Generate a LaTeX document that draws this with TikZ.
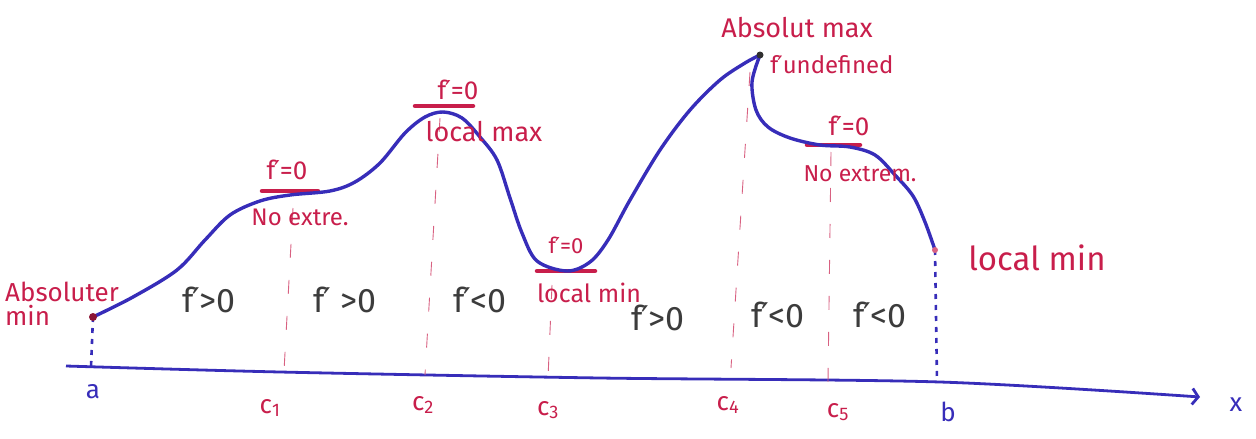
\documentclass[tikz,border=0pt]{standalone}
\usepackage{fontspec}
\setmainfont{Fira Sans}
\newfontfamily\primefont{DejaVu Sans}
\newcommand\fp{f{\primefont\kern-0.05em′}}
\usetikzlibrary{arrows.meta}
\definecolor{pen}{RGB}{55,45,185}
\definecolor{ink}{RGB}{200,30,75}
\definecolor{pencil}{RGB}{60,60,60}
\begin{document}
\begin{tikzpicture}[x=1pt,y=-1pt,
 curve/.style={pen, line width=3.4pt, line cap=round, line join=round},
 axisline/.style={pen, line width=2.8pt},
 guide/.style={ink!70, line width=0.9pt, dash pattern=on 14pt off 22pt},
 enddots/.style={pen, line width=2.6pt, dash pattern=on 5pt off 6pt},
 hbar/.style={ink, line width=4.5pt, line cap=round},
 dotmark/.style={circle, fill=#1, inner sep=0pt, minimum size=8pt},
 redlbl/.style={ink, inner sep=0pt},
 signlbl/.style={pencil, inner sep=0pt, font=\fontsize{34}{36}\selectfont},
 bluelbl/.style={pen, inner sep=0pt, font=\fontsize{26}{28}\selectfont},
 redsub/.style={ink, inner sep=0pt, font=\fontsize{26}{28}\selectfont},
]
\useasboundingbox (0,0) rectangle (1256,439);

% axis
\coordinate (O) at (66,366);
\coordinate (X) at (1200,397);
\draw[axisline, -{Straight Barb[length=6pt,width=16pt]}] plot[smooth, tension=0.5] coordinates {(66,366) (280,372) (600,378) (940,382) (1200,397)};

% key points
\coordinate (A) at (93,317);
\coordinate (S1) at (290,194);
\coordinate (S2) at (443,112);
\coordinate (S3) at (567,271);
\coordinate (M) at (760,55);
\coordinate (S5) at (840,147);
\coordinate (B) at (935,250);

% axis feet
\coordinate (Aa) at (91,367);
\coordinate (C1t) at (293,208);
\coordinate (C1a) at (284,371);
\coordinate (C2t) at (440,118);
\coordinate (C2a) at (425,375);
\coordinate (C3t) at (552,285);
\coordinate (C3a) at (548,378);
\coordinate (C4t) at (750,72);
\coordinate (C4a) at (731,368);
\coordinate (C5t) at (831,152);
\coordinate (C5a) at (828,382);
\coordinate (Ba) at (937,381);

% guides
\draw[enddots] (A) -- (Aa);
\draw[guide] (C1t) -- (C1a);
\draw[guide] (C2t) -- (C2a);
\draw[guide] (C3t) -- (C3a);
\draw[guide] (C4t) -- (C4a);
\draw[guide] (C5t) -- (C5a);
\draw[enddots] (B) -- (Ba);

% stationary bars
\draw[hbar] (262,191) -- (318,191);
\draw[hbar] (415,106) -- (473,106);
\draw[hbar] (537,271) -- (595,271);
\draw[hbar] (807,145) -- (860,145);

% curve
\draw[curve] plot[smooth, tension=0.55] coordinates {
 (93,317) (133,297) (177,270) (205,240) (230,215) (260,201) (290,195) (330,191)
 (355,182) (380,163) (405,133) (425,117) (443,112) (462,118) (480,137) (497,160)
 (510,198) (522,233) (537,261) (567,271) (590,262) (608,240) (630,200) (660,150)
 (690,110) (720,80) (745,63) (760,55)};
\draw[curve] plot[smooth, tension=0.55] coordinates {
 (760,55) (752,82) (756,110) (768,127) (790,138) (820,145) (850,147) (875,155)
 (895,175) (913,196) (925,222) (935,250)};

\node[dotmark=ink!70!black] (dA) at (A) {};
\node[dotmark=pencil!80!black, minimum size=7pt] (dM) at (M) {};
\node[dotmark=ink!70, minimum size=6pt] (dB) at (B) {};

% red labels
\node[redlbl, font=\fontsize{26}{28}\selectfont, align=left] (absmin) at (62,304) {Absoluter\\[-4pt]min};
\node[redlbl, font=\fontsize{26}{28}\selectfont] (z1) at (287,170) {\fp=0};
\node[redlbl, font=\fontsize{24}{26}\selectfont] (n1) at (300,217) {No extre.};
\node[redlbl, font=\fontsize{26}{28}\selectfont] (z2) at (458,90) {\fp=0};
\node[redlbl, font=\fontsize{27}{29}\selectfont] (lmax) at (484,132) {local max};
\node[redlbl, font=\fontsize{22}{24}\selectfont] (z3) at (566,245) {\fp=0};
\node[redlbl, font=\fontsize{25}{27}\selectfont] (lmin3) at (589,293) {local min};
\node[redlbl, font=\fontsize{27}{29}\selectfont] (amax) at (797,28) {Absolut max};
\node[redlbl, font=\fontsize{24}{26}\selectfont] (undef) at (832,65) {\fp undefined};
\node[redlbl, font=\fontsize{26}{28}\selectfont] (z5) at (849,126) {\fp=0};
\node[redlbl, font=\fontsize{23}{25}\selectfont] (n5) at (860,174) {No extrem.};
\node[redlbl, font=\fontsize{33}{35}\selectfont] (lminb) at (1037,258) {local min};

% sign labels
\node[signlbl] (s1) at (209,300) {\fp>0};
\node[signlbl] (s2) at (345,300) {\fp\ >0};
\node[signlbl] (s3) at (480,300) {\fp<0};
\node[signlbl] (s4) at (658,318) {\fp>0};
\node[signlbl] (s5) at (778,315) {\fp<0};
\node[signlbl] (s6) at (880,315) {\fp<0};

% axis labels
\node[bluelbl] (la) at (93,392) {a};
\node[redsub] (lc1) at (270,408) {c\textsubscript{1}};
\node[redsub] (lc2) at (423,405) {c\textsubscript{2}};
\node[redsub] (lc3) at (548,410) {c\textsubscript{3}};
\node[redsub] (lc4) at (728,405) {c\textsubscript{4}};
\node[redsub] (lc5) at (838,412) {c\textsubscript{5}};
\node[bluelbl] (lb) at (948,412) {b};
\node[bluelbl] (lx) at (1236,405) {x};
\end{tikzpicture}
\end{document}
